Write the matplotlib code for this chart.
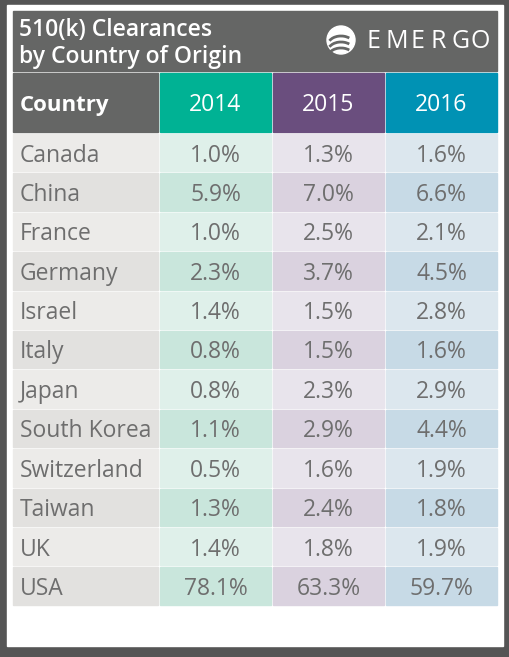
import numpy as np
import matplotlib.pyplot as plt
from matplotlib.patches import Rectangle, Circle, Arc

countries = ["Canada", "China", "France", "Germany", "Israel", "Italy",
             "Japan", "South Korea", "Switzerland", "Taiwan", "UK", "USA"]
years = ["2014", "2015", "2016"]
share_2014 = [1.0, 5.9, 1.0, 2.3, 1.4, 0.8, 0.8, 1.1, 0.5, 1.3, 1.4, 78.1]
share_2015 = [1.3, 7.0, 2.5, 3.7, 1.5, 1.5, 2.3, 2.9, 1.6, 2.4, 1.8, 63.3]
share_2016 = [1.6, 6.6, 2.1, 4.5, 2.8, 1.6, 2.9, 4.4, 1.9, 1.8, 1.9, 59.7]
title_lines = ["510(k) Clearances", "by Country of Origin"]

plt.rcParams['font.family'] = ['Open Sans', 'DejaVu Sans']

W, H = 510, 657
fig = plt.figure(figsize=(W / 100, H / 100), dpi=100)
fig.patch.set_facecolor("#555555")
ax = fig.add_axes([0, 0, 1, 1])
ax.set_xlim(0, W)
ax.set_ylim(H, 0)
ax.axis("off")

# white panel
ax.add_patch(Rectangle((7, 5), 496, 641, color="white"))

# title block
ax.add_patch(Rectangle((13, 11), 484, 60, color="#656665"))
ax.text(19, 30, title_lines[0], color="white", fontsize=16.5, weight="semibold", va="center")
ax.text(19, 57, title_lines[1], color="white", fontsize=16.5, weight="semibold", va="center")

# logo
ax.add_patch(Circle((341, 40), 14, color="white"))
for dy in (-5, 1, 7):
    ax.add_patch(Arc((341, 40 + dy + 10), 26, 18, theta1=200, theta2=320,
                     color="#656665", lw=2))
letters = "EMERGO"
xs = [367, 386, 411, 431, 452, 471]
for ch, x in zip(letters, xs):
    ax.text(x, 42, ch, color="white", fontsize=18, weight="normal", va="center", ha="left")

# columns
col_x = [13, 160, 273, 386]
col_w = [145, 111, 111, 111]
head_colors = ["#656665", "#00b294", "#6a4e7e", "#0092b4"]
light = ["#ecebe9", "#dff0ea", "#e8e4ec", "#dce7ee"]
dark = ["#e2e1df", "#c9e6dc", "#dad2df", "#c7dae6"]
txt = "#6e6e6e"

# header row
for j in range(4):
    ax.add_patch(Rectangle((col_x[j], 73), col_w[j], 59, color=head_colors[j]))
ax.text(20, 105, "Country", color="white", fontsize=16, weight="bold", va="center")
for j, y in enumerate(years):
    ax.text(col_x[j + 1] + col_w[j + 1] / 2, 105, y, color="white",
            fontsize=16.5, va="center", ha="center")

values = [share_2014, share_2015, share_2016]
pitch = 39.4
for i, c in enumerate(countries):
    top = 134 + i * pitch
    cols = light if i % 2 == 0 else dark
    for j in range(4):
        ax.add_patch(Rectangle((col_x[j], top), col_w[j], 37.4, color=cols[j]))
    cy = top + 21.5
    ax.text(20, cy, c, color=txt, fontsize=16.5, va="center")
    for j in range(3):
        ax.text(col_x[j + 1] + col_w[j + 1] / 2, cy, f"{values[j][i]:.1f}%",
                color=txt, fontsize=16.5, va="center", ha="center")

fig.savefig("out.png", dpi=100, facecolor=fig.get_facecolor())
